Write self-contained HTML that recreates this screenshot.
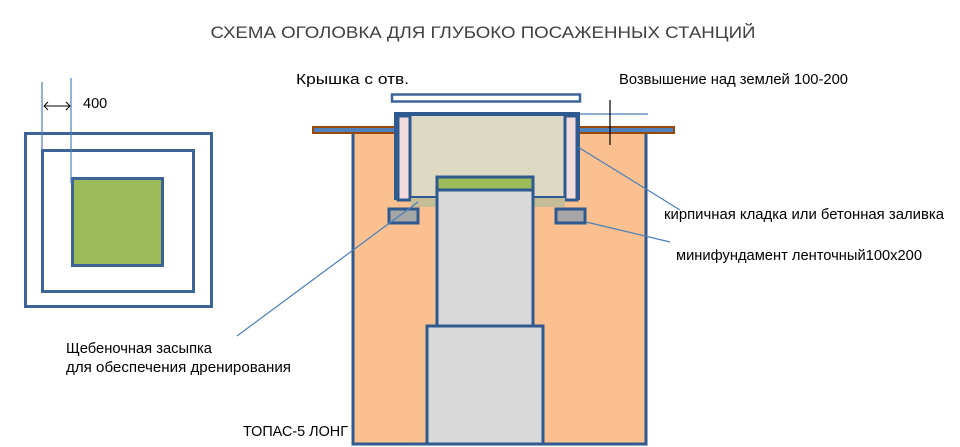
<!DOCTYPE html>
<html><head><meta charset="utf-8"><style>
html,body{margin:0;padding:0;background:#fff;}
svg{display:block;}
text{font-family:"Liberation Sans","DejaVu Sans",sans-serif;}
</style></head><body>
<svg width="960" height="447" viewBox="0 0 960 447" xmlns="http://www.w3.org/2000/svg">
<text x="483" y="38" text-anchor="middle" font-size="17" fill="#404040" textLength="545" lengthAdjust="spacingAndGlyphs">СХЕМА ОГОЛОВКА ДЛЯ ГЛУБОКО ПОСАЖЕННЫХ СТАНЦИЙ</text>

<!-- left plan -->
<rect x="25.5" y="133.5" width="186" height="173" fill="none" stroke="#3c6497" stroke-width="3"/>
<rect x="42.5" y="150.5" width="151" height="141" fill="none" stroke="#3c6497" stroke-width="3"/>
<rect x="72.5" y="178.5" width="90" height="87" fill="#9bbb59" stroke="#3c6497" stroke-width="3"/>
<line x1="42" y1="82" x2="42" y2="150" stroke="#4a7ebb" stroke-width="1.2"/>
<line x1="71" y1="78" x2="71" y2="183" stroke="#4a7ebb" stroke-width="1.2"/>
<line x1="44" y1="106" x2="70" y2="106" stroke="#000" stroke-width="1"/>
<path d="M48 102 L44 106 L48 110 M66 102 L70 106 L66 110" fill="none" stroke="#000" stroke-width="1"/>
<text x="83" y="108" font-size="14.5" fill="#000">400</text>

<!-- pit -->
<rect x="353" y="132" width="293" height="312" fill="#fac090" stroke="#2f5a8f" stroke-width="3"/>
<rect x="313" y="127" width="361" height="6" fill="#4f81bd" stroke="#984807" stroke-width="2"/>
<!-- lid -->
<rect x="392" y="94.5" width="188" height="7" fill="#fff" stroke="#3c6497" stroke-width="2.5"/>
<!-- housing -->
<rect x="396" y="114" width="182" height="84" fill="#ddd9c3" stroke="#2f5a8f" stroke-width="4"/>
<rect x="398" y="116" width="12" height="84" fill="#f2dcdb" stroke="#2f5a8f" stroke-width="3"/>
<rect x="565" y="116" width="12" height="84" fill="#f2dcdb" stroke="#2f5a8f" stroke-width="3"/>
<rect x="411" y="198" width="154" height="9" fill="#c4bd97"/>
<rect x="389" y="209" width="29" height="14" fill="#a6a6a6" stroke="#2f5a8f" stroke-width="3"/>
<rect x="556" y="209" width="29" height="14" fill="#a6a6a6" stroke="#2f5a8f" stroke-width="3"/>
<!-- tank -->
<rect x="437" y="190" width="96" height="136" fill="#d9d9d9" stroke="#2f5a8f" stroke-width="3"/>
<rect x="437" y="177" width="96" height="13" fill="#9bbb59" stroke="#2f5a8f" stroke-width="3"/>
<rect x="427" y="326" width="116" height="118" fill="#d9d9d9" stroke="#2f5a8f" stroke-width="3"/>

<!-- leaders -->
<line x1="580" y1="114" x2="648" y2="114" stroke="#4a7ebb" stroke-width="1.2"/>
<line x1="610" y1="100" x2="610" y2="145" stroke="#000" stroke-width="1.2"/>
<line x1="578" y1="147" x2="680" y2="210" stroke="#4a7ebb" stroke-width="1.2"/>
<line x1="586" y1="222" x2="670" y2="242" stroke="#4a7ebb" stroke-width="1.2"/>
<line x1="418" y1="202" x2="237" y2="336" stroke="#4a7ebb" stroke-width="1.2"/>

<text x="296" y="84" font-size="14.5" fill="#000" textLength="113" lengthAdjust="spacingAndGlyphs">Крышка с отв.</text>
<text x="619" y="84" font-size="14.5" fill="#000" textLength="229" lengthAdjust="spacingAndGlyphs">Возвышение над землей 100-200</text>
<text x="664" y="219" font-size="14.5" fill="#000" textLength="280" lengthAdjust="spacingAndGlyphs">кирпичная кладка или бетонная заливка</text>
<text x="676" y="260" font-size="14.5" fill="#000" textLength="246" lengthAdjust="spacingAndGlyphs">минифундамент ленточный100х200</text>
<text x="66" y="353" font-size="14.5" fill="#000" textLength="146" lengthAdjust="spacingAndGlyphs">Щебеночная засыпка</text>
<text x="66" y="372" font-size="14.5" fill="#000" textLength="225" lengthAdjust="spacingAndGlyphs">для обеспечения дренирования</text>
<text x="243" y="436" font-size="14.5" fill="#000" textLength="105" lengthAdjust="spacingAndGlyphs">ТОПАС-5 ЛОНГ</text>
</svg>
</body></html>
